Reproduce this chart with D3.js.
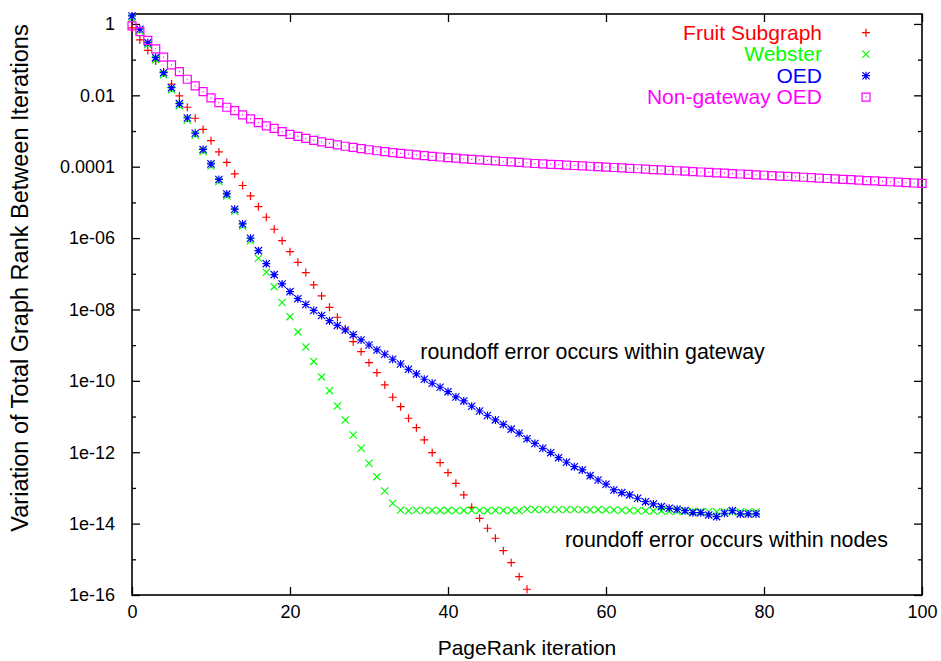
<!DOCTYPE html>
<html>
<head>
<meta charset="utf-8">
<script src="https://cdn.jsdelivr.net/npm/d3@7"></script>
<style>
  body { margin: 0; background: #fff; }
  svg { display: block; font-family: "Liberation Sans", Arial, Helvetica, sans-serif; }
  .tick line { stroke: #000; stroke-width: 1.3; }
  .tick text { font-size: 18px; fill: #000; }
</style>
</head>
<body>
<svg id="svg" width="941" height="661"></svg>
<script>
// values, index = PageRank iteration (starting at 0)
const fruitSubgraph = [0.773, 0.356, 0.181, 0.0919, 0.0452, 0.0208, 9.61e-3, 4.64e-3, 2.28e-3, 1.11e-3,
  5.37e-4, 2.59e-4, 1.32e-4, 6.27e-5, 2.98e-5, 1.52e-5, 7.61e-6, 3.84e-6, 1.77e-6, 8.48e-7,
  4.17e-7, 2.10e-7, 1.08e-7, 4.87e-8, 2.39e-8, 1.15e-8, 6.05e-9, 2.88e-9, 1.25e-9, 6.58e-10,
  3.24e-10, 1.70e-10, 7.68e-11, 3.47e-11, 1.89e-11, 8.95e-12, 4.88e-12, 2.21e-12, 9.73e-13, 5.10e-13,
  2.68e-13, 1.35e-13, 6.36e-14, 2.87e-14, 1.41e-14, 7.41e-15, 3.89e-15, 1.75e-15, 8.06e-16, 3.27e-16,
  1.45e-16];

const webster = [1.47, 0.624, 0.263, 0.100, 0.0380, 0.0144, 5.14e-3, 2.04e-3, 7.61e-4, 2.68e-4,
  1.05e-4, 3.86e-5, 1.52e-5, 5.65e-6, 2.19e-6, 8.48e-7, 2.72e-7, 1.10e-7, 4.36e-8, 1.57e-8,
  6.29e-9, 2.35e-9, 8.91e-10, 3.50e-10, 1.29e-10, 5.31e-11, 1.98e-11, 8.02e-12, 3.05e-12, 1.29e-12,
  4.91e-13, 2.07e-13, 8.22e-14, 3.72e-14, 2.41e-14, 2.30e-14, 2.36e-14, 2.33e-14, 2.38e-14, 2.31e-14,
  2.35e-14, 2.29e-14, 2.34e-14, 2.37e-14, 2.32e-14, 2.30e-14, 2.36e-14, 2.33e-14, 2.35e-14, 2.31e-14,
  2.52e-14, 2.47e-14, 2.50e-14, 2.45e-14, 2.48e-14, 2.44e-14, 2.49e-14, 2.46e-14, 2.43e-14, 2.47e-14,
  2.42e-14, 2.40e-14, 2.36e-14, 2.33e-14, 2.30e-14, 2.28e-14, 2.25e-14, 2.27e-14, 2.22e-14, 2.24e-14,
  2.19e-14, 2.21e-14, 2.16e-14, 2.18e-14, 2.13e-14, 2.15e-14, 2.12e-14, 2.14e-14, 2.11e-14, 2.13e-14];

const oed = [1.68, 0.71, 0.30, 0.114, 0.0432, 0.0164, 5.85e-3, 2.32e-3, 8.67e-4, 3.05e-4,
  1.20e-4, 4.40e-5, 1.73e-5, 6.44e-6, 2.49e-6, 9.91e-7, 4.45e-7, 1.92e-7, 9.46e-8, 5.19e-8,
  3.16e-8, 2.01e-8, 1.38e-8, 9.38e-9, 6.79e-9, 4.86e-9, 3.57e-9, 2.67e-9, 1.97e-9, 1.40e-9,
  1.01e-9, 7.34e-10, 5.56e-10, 4.03e-10, 2.97e-10, 2.11e-10, 1.56e-10, 1.11e-10, 8.57e-11, 6.62e-11,
  4.98e-11, 3.54e-11, 2.74e-11, 1.94e-11, 1.43e-11, 1.07e-11, 8.03e-12, 6.01e-12, 4.44e-12, 3.41e-12,
  2.39e-12, 1.76e-12, 1.29e-12, 9.73e-13, 7.05e-13, 5.24e-13, 3.94e-13, 3.19e-13, 2.21e-13, 1.67e-13,
  1.27e-13, 8.77e-14, 7.38e-14, 6.36e-14, 5.14e-14, 4.12e-14, 3.56e-14, 2.99e-14, 2.69e-14, 2.52e-14,
  2.31e-14, 2.03e-14, 2.03e-14, 1.75e-14, 1.57e-14, 1.95e-14, 2.31e-14, 1.87e-14, 1.87e-14, 1.87e-14];

const nonGatewayOed = [0.879, 0.608, 0.345, 0.199, 0.117, 0.0710, 0.0461, 0.0282, 0.0183, 0.0127,
  8.45e-3, 6.24e-3, 4.64e-3, 3.72e-3, 2.82e-3, 2.18e-3, 1.72e-3, 1.39e-3, 1.18e-3, 9.60e-4,
  8.01e-4, 7.05e-4, 6.19e-4, 5.44e-4, 4.94e-4, 4.49e-4, 4.07e-4, 3.74e-4, 3.47e-4, 3.21e-4,
  2.99e-4, 2.80e-4, 2.64e-4, 2.49e-4, 2.37e-4, 2.25e-4, 2.14e-4, 2.04e-4, 1.95e-4, 1.87e-4,
  1.80e-4, 1.73e-4, 1.66e-4, 1.60e-4, 1.55e-4, 1.50e-4, 1.45e-4, 1.40e-4, 1.36e-4, 1.32e-4,
  1.27e-4, 1.23e-4, 1.20e-4, 1.17e-4, 1.14e-4, 1.11e-4, 1.08e-4, 1.06e-4, 1.03e-4, 1.00e-4,
  9.75e-5, 9.50e-5, 9.26e-5, 9.02e-5, 8.78e-5, 8.55e-5, 8.33e-5, 8.11e-5, 7.90e-5, 7.70e-5,
  7.50e-5, 7.31e-5, 7.12e-5, 6.93e-5, 6.75e-5, 6.57e-5, 6.40e-5, 6.24e-5, 6.08e-5, 5.92e-5,
  5.77e-5, 5.62e-5, 5.47e-5, 5.33e-5, 5.19e-5, 5.06e-5, 4.93e-5, 4.80e-5, 4.67e-5, 4.55e-5,
  4.43e-5, 4.32e-5, 4.21e-5, 4.10e-5, 3.99e-5, 3.89e-5, 3.79e-5, 3.69e-5, 3.59e-5, 3.50e-5,
  3.41e-5];

const seriesNames = ['Fruit Subgraph', 'Webster', 'OED', 'Non-gateway OED'];
const seriesColors = ['#ff0000', '#00ff00', '#0000ff', '#ff00ff'];
const seriesMarkers = ['plus', 'cross', 'star', 'box'];

const xTicks = [0, 20, 40, 60, 80, 100];
const yTicks = [1, 1e-2, 1e-4, 1e-6, 1e-8, 1e-10, 1e-12, 1e-14, 1e-16];
const yTickLabels = ['1', '0.01', '0.0001', '1e-06', '1e-08', '1e-10', '1e-12', '1e-14', '1e-16'];
const yMinorTicks = [1e-1, 1e-3, 1e-5, 1e-7, 1e-9, 1e-11, 1e-13, 1e-15];

const notes = [
  {text: 'roundoff error occurs within gateway', x: 36.5, y: 6.5e-10},
  {text: 'roundoff error occurs within nodes', x: 54.8, y: 3.5e-15}
];

var svg = d3.select('svg');
var margin = {top: 14, right: 19, bottom: 66, left: 132};
var width = 941 - margin.left - margin.right;
var height = 661 - margin.top - margin.bottom;

var chart = svg.append('g')
  .attr('transform', `translate(${margin.left}, ${margin.top})`);

var xScale = d3.scaleLinear()
  .domain([0, 100])
  .range([0, width]);

var yScale = d3.scaleLog()
  .domain([1e-16, 1.9])
  .range([height, 0]);

// ticks point inwards, on all four sides
chart.append('g')
  .attr('transform', `translate(0, ${height})`)
  .call(d3.axisBottom(xScale).tickValues(xTicks).tickSize(-8).tickPadding(10).tickFormat(d3.format('d')));
chart.append('g')
  .call(d3.axisTop(xScale).tickValues(xTicks).tickSize(-8).tickFormat(''));
chart.append('g')
  .call(d3.axisLeft(yScale).tickValues(yTicks).tickSize(-8).tickPadding(17)
    .tickFormat((d, i) => yTickLabels[i]));
chart.append('g')
  .call(d3.axisLeft(yScale).tickValues(yMinorTicks).tickSize(-4).tickFormat(''));
chart.append('g')
  .attr('transform', `translate(${width}, 0)`)
  .call(d3.axisRight(yScale).tickValues(yTicks).tickSize(-8).tickFormat(''));
chart.append('g')
  .attr('transform', `translate(${width}, 0)`)
  .call(d3.axisRight(yScale).tickValues(yMinorTicks).tickSize(-4).tickFormat(''));
chart.selectAll('.domain').remove();

chart.append('rect')
  .attr('width', width)
  .attr('height', height)
  .attr('fill', 'none')
  .attr('stroke', '#000')
  .attr('stroke-width', 1.6);

function markerPath(type) {
  var s = 4;
  var t = 3.6;
  if (type === 'plus') return `M${-s},0H${s}M0,${-s}V${s}`;
  if (type === 'cross') return `M${-t},${-t}L${t},${t}M${-t},${t}L${t},${-t}`;
  if (type === 'star') return `M${-s},0H${s}M0,${-s}V${s}M${-t},${-t}L${t},${t}M${-t},${t}L${t},${-t}`;
  return `M${-s},${-s}H${s}V${s}H${-s}Z M-0.5,0H0.5`;
}

var allSeries = [fruitSubgraph, webster, oed, nonGatewayOed];

allSeries.forEach((values, k) => {
  chart.append('g')
    .selectAll('path')
    .data(values)
    .enter()
    .append('path')
    .attr('transform', (v, i) => `translate(${xScale(i)}, ${yScale(v)})`)
    .attr('d', markerPath(seriesMarkers[k]))
    .attr('fill', 'none')
    .attr('stroke', seriesColors[k])
    .attr('stroke-width', 1.2);
});

// key, top right
var legend = svg.append('g');
seriesNames.forEach((name, k) => {
  var y = 32.7 + k * 21.5;
  legend.append('text')
    .attr('x', 822)
    .attr('y', y + 7)
    .attr('text-anchor', 'end')
    .attr('font-size', 21)
    .attr('fill', seriesColors[k])
    .text(name);
  legend.append('path')
    .attr('transform', `translate(866, ${y})`)
    .attr('d', markerPath(seriesMarkers[k]))
    .attr('fill', 'none')
    .attr('stroke', seriesColors[k])
    .attr('stroke-width', 1.2);
});

notes.forEach(n => {
  chart.append('text')
    .attr('x', xScale(n.x))
    .attr('y', yScale(n.y) + 7)
    .attr('font-size', 21.4)
    .attr('fill', '#000')
    .text(n.text);
});

svg.append('text')
  .attr('x', margin.left + width / 2)
  .attr('y', 655)
  .attr('text-anchor', 'middle')
  .attr('font-size', 21)
  .text('PageRank iteration');

svg.append('text')
  .attr('transform', 'rotate(-90)')
  .attr('x', -278)
  .attr('y', 28)
  .attr('text-anchor', 'middle')
  .attr('font-size', 23.5)
  .text('Variation of Total Graph Rank Between Iterations');
</script>
</body>
</html>
